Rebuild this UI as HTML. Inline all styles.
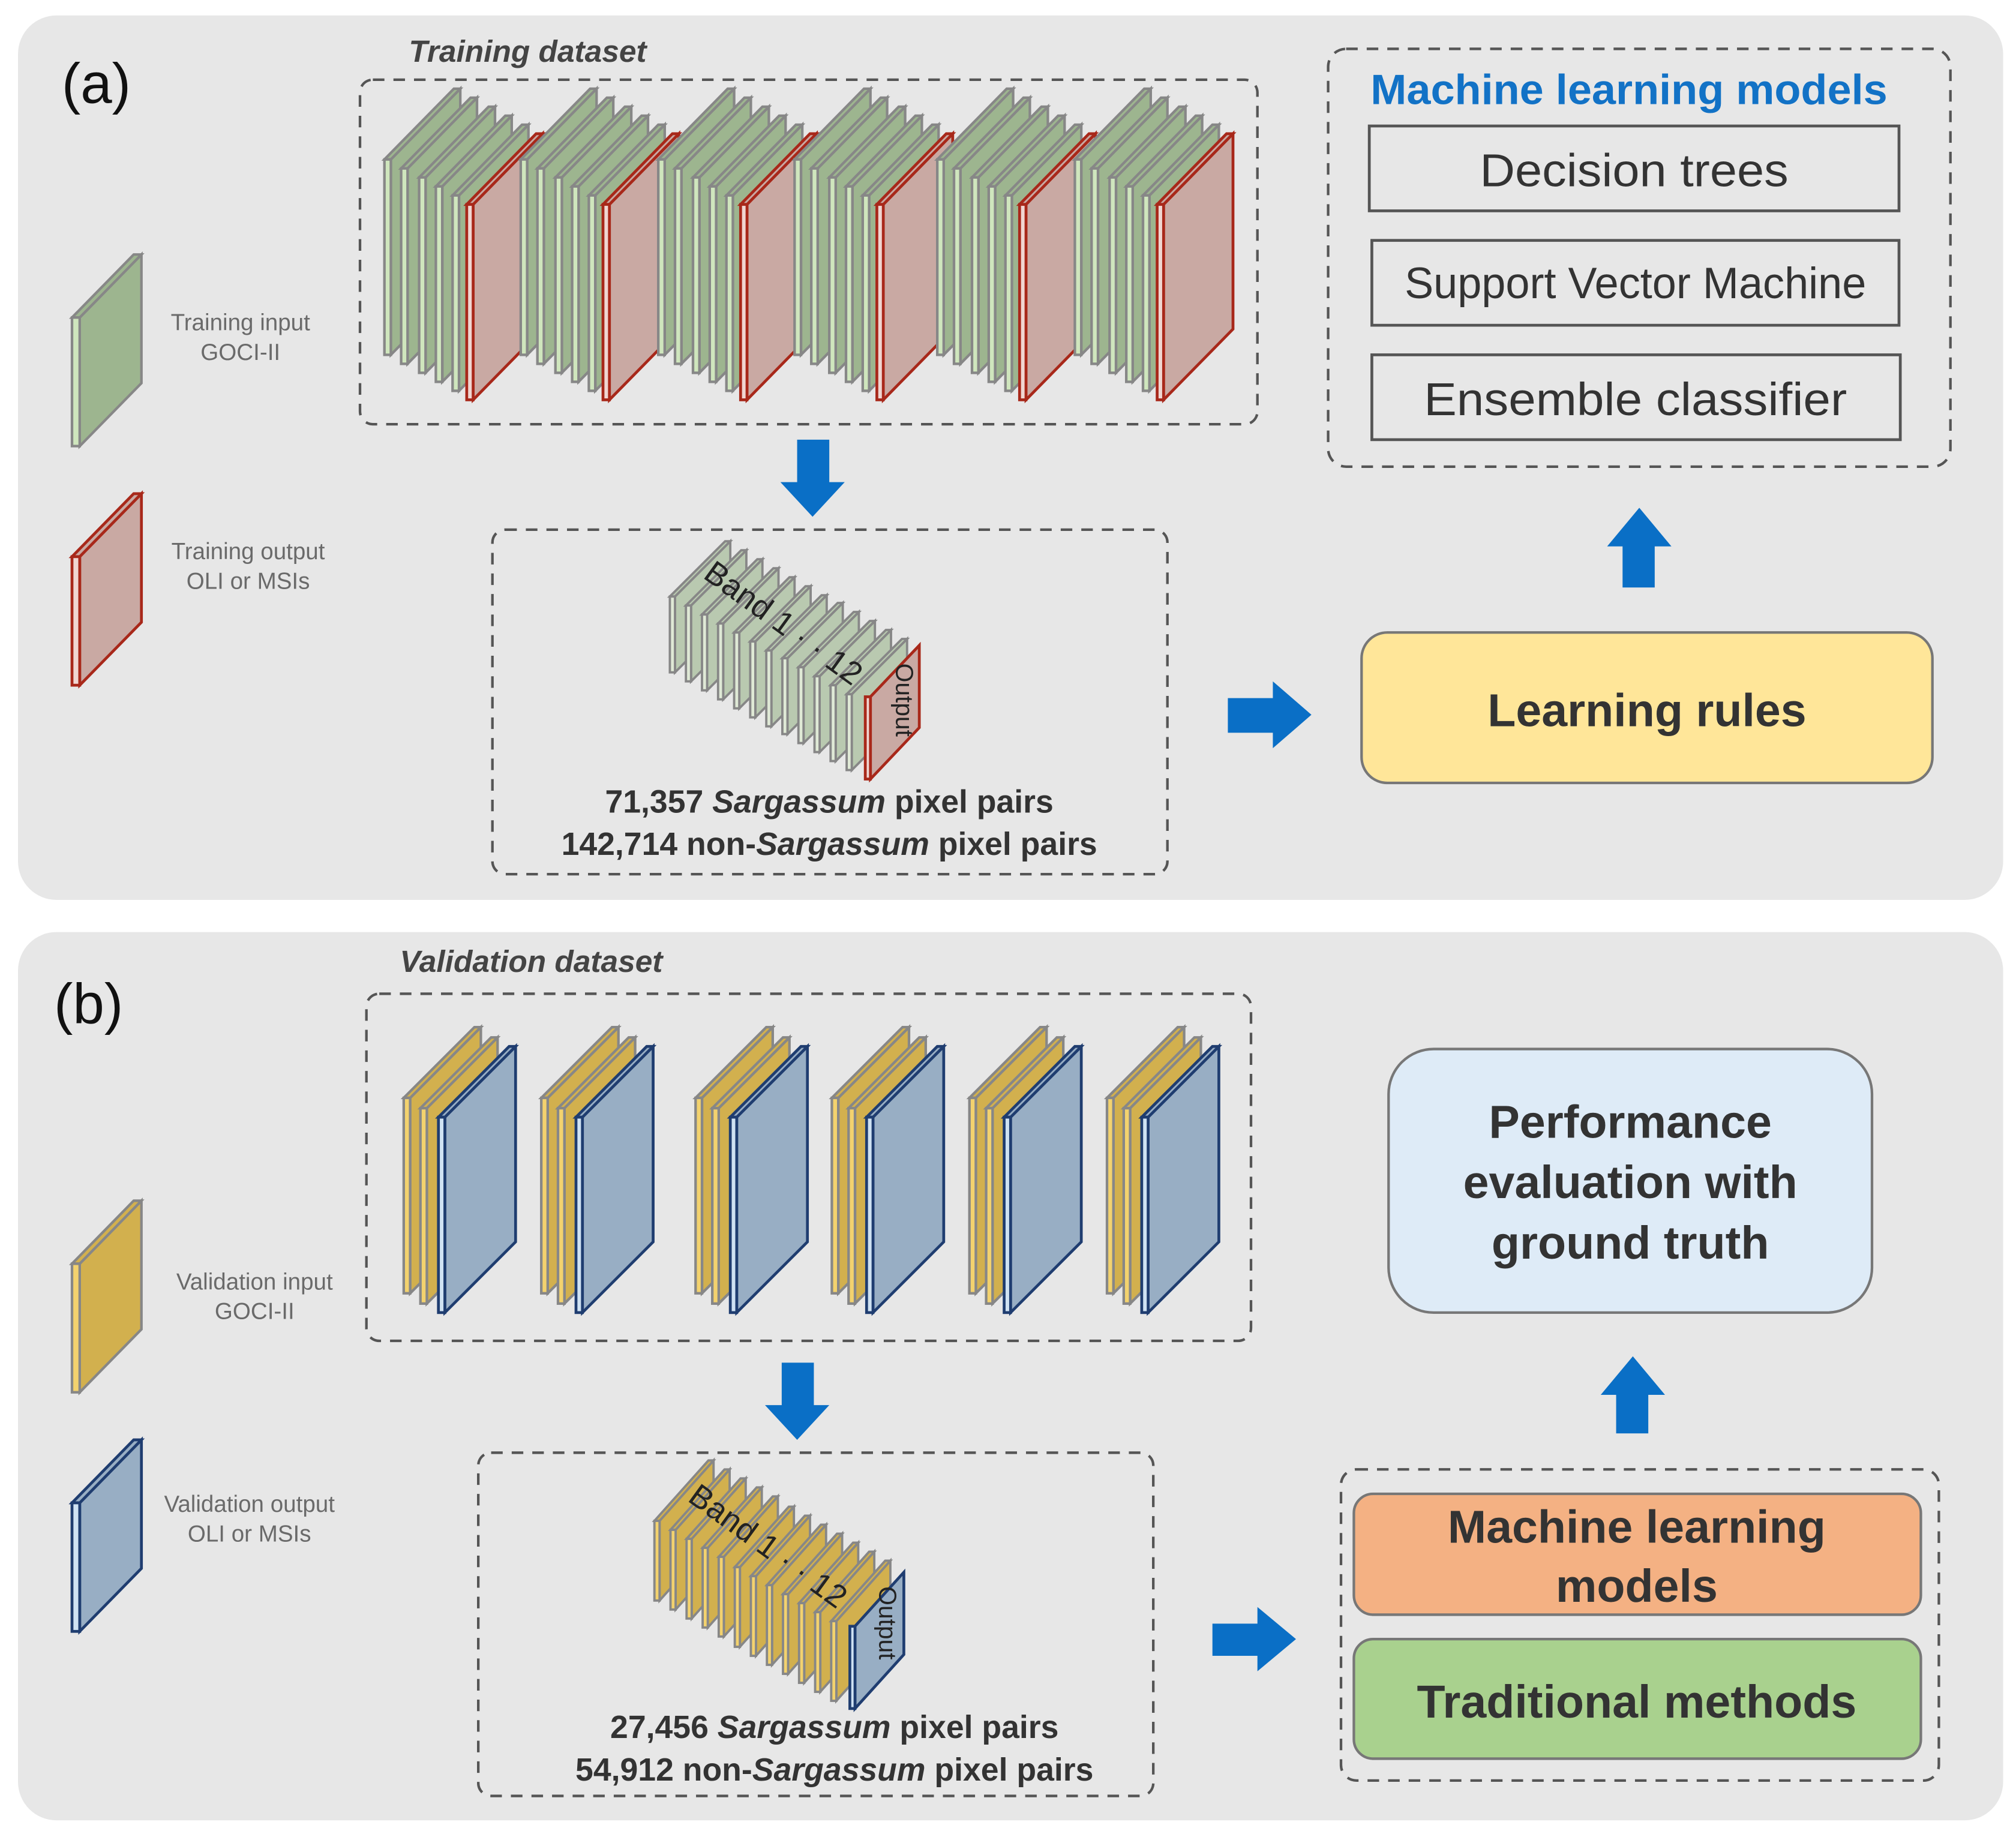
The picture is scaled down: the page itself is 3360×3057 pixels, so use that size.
<!DOCTYPE html>
<html><head><meta charset="utf-8"><style>html,body{margin:0;padding:0;background:#fff}svg{display:block}svg text{font-family:"Liberation Sans",Arial,sans-serif}</style></head>
<body>
<svg width="3360" height="3057" viewBox="0 0 1568 1426.6" xmlns="http://www.w3.org/2000/svg" font-family="'Liberation Sans', Arial, sans-serif">
<defs>
<g id="G"><polygon points="5,0 59,-55 59,97 5,152" fill="#9db58f" stroke="#878787" stroke-width="2"/><polygon points="0,0 54,-55 59,-55 5,0" fill="#9db58f" stroke="#878787" stroke-width="2"/><rect x="0" y="0" width="5" height="152" fill="#cfe6bd" stroke="#878787" stroke-width="2"/></g>
<g id="R"><polygon points="5,0 59,-55 59,97 5,152" fill="#c9a9a3" stroke="#a8281a" stroke-width="2.2"/><polygon points="0,0 54,-55 59,-55 5,0" fill="#c9a9a3" stroke="#a8281a" stroke-width="2.2"/><rect x="0" y="0" width="5" height="152" fill="#f0d6d2" stroke="#a8281a" stroke-width="2.2"/></g>
<g id="Y"><polygon points="5,0 60,-55 60,97 5,152" fill="#d2b04e" stroke="#878787" stroke-width="2"/><polygon points="0,0 55,-55 60,-55 5,0" fill="#d2b04e" stroke="#878787" stroke-width="2"/><rect x="0" y="0" width="5" height="152" fill="#f3d26e" stroke="#878787" stroke-width="2"/></g>
<g id="B"><polygon points="5,0 60,-55 60,97 5,152" fill="#98aec4" stroke="#1f3d70" stroke-width="2.2"/><polygon points="0,0 55,-55 60,-55 5,0" fill="#98aec4" stroke="#1f3d70" stroke-width="2.2"/><rect x="0" y="0" width="5" height="152" fill="#cfe2f3" stroke="#1f3d70" stroke-width="2.2"/></g>
<g id="g"><polygon points="4,0 47,-43 47,16 4,59" fill="#b9c9b0" stroke="#878787" stroke-width="1.8"/><polygon points="0,0 43,-43 47,-43 4,0" fill="#b9c9b0" stroke="#878787" stroke-width="1.8"/><rect x="0" y="0" width="4" height="59" fill="#dfe9d6" stroke="#878787" stroke-width="1.8"/></g>
<g id="r"><polygon points="4,0 42,-40 42,24 4,64" fill="#c9a9a3" stroke="#a8281a" stroke-width="2.2"/><rect x="0" y="0" width="4" height="64" fill="#f0d6d2" stroke="#a8281a" stroke-width="2.2"/></g>
<g id="y"><polygon points="4,0 46,-47 46,15 4,62" fill="#d2b04e" stroke="#878787" stroke-width="1.8"/><polygon points="0,0 42,-47 46,-47 4,0" fill="#d2b04e" stroke="#878787" stroke-width="1.8"/><rect x="0" y="0" width="4" height="62" fill="#f3d26e" stroke="#878787" stroke-width="1.8"/></g>
<g id="b"><polygon points="4,0 42,-42 42,22 4,64" fill="#98aec4" stroke="#1f3d70" stroke-width="2.2"/><rect x="0" y="0" width="4" height="64" fill="#cfe2f3" stroke="#1f3d70" stroke-width="2.2"/></g>
<g id="LG"><polygon points="6,0 54,-49 54,51 6,100" fill="#9db58f" stroke="#878787" stroke-width="2"/><polygon points="0,0 48,-49 54,-49 6,0" fill="#9db58f" stroke="#878787" stroke-width="2"/><rect x="0" y="0" width="6" height="100" fill="#cfe6bd" stroke="#878787" stroke-width="2"/></g>
<g id="LR"><polygon points="6,0 54,-49 54,51 6,100" fill="#c9a9a3" stroke="#a8281a" stroke-width="2.2"/><polygon points="0,0 48,-49 54,-49 6,0" fill="#c9a9a3" stroke="#a8281a" stroke-width="2.2"/><rect x="0" y="0" width="6" height="100" fill="#f0d6d2" stroke="#a8281a" stroke-width="2.2"/></g>
<g id="LY"><polygon points="6,0 54,-49 54,51 6,100" fill="#d2b04e" stroke="#878787" stroke-width="2"/><polygon points="0,0 48,-49 54,-49 6,0" fill="#d2b04e" stroke="#878787" stroke-width="2"/><rect x="0" y="0" width="6" height="100" fill="#f3d26e" stroke="#878787" stroke-width="2"/></g>
<g id="LB"><polygon points="6,0 54,-49 54,51 6,100" fill="#98aec4" stroke="#1f3d70" stroke-width="2.2"/><polygon points="0,0 48,-49 54,-49 6,0" fill="#98aec4" stroke="#1f3d70" stroke-width="2.2"/><rect x="0" y="0" width="6" height="100" fill="#cfe2f3" stroke="#1f3d70" stroke-width="2.2"/></g>
<g id="TG"><use href="#G" x="0" y="0"/><use href="#G" x="13" y="7"/><use href="#G" x="27" y="14"/><use href="#G" x="40" y="21"/><use href="#G" x="53" y="28"/><use href="#R" x="64" y="35"/></g>
<g id="VG"><use href="#Y" x="0" y="0"/><use href="#Y" x="13" y="8"/><use href="#B" x="27" y="15"/></g>
</defs>

<rect width="1568" height="1427" fill="#fff"/>
<rect x="14" y="12" width="1544" height="688" rx="30" fill="#e7e7e7"/>
<rect x="14" y="725" width="1544" height="691" rx="30" fill="#e7e7e7"/>

<text x="48" y="80" font-size="44" fill="#111">(a)</text>
<text x="318" y="48" font-size="24" font-style="italic" font-weight="bold" fill="#444">Training dataset</text>
<rect x="280" y="62" width="698" height="268" rx="10" fill="none" stroke="#555" stroke-width="2" stroke-dasharray="9,7"/>
<use href="#TG" x="299" y="124"/>
<use href="#TG" x="405" y="124"/>
<use href="#TG" x="512" y="124"/>
<use href="#TG" x="618" y="124"/>
<use href="#TG" x="729" y="124"/>
<use href="#TG" x="836" y="124"/>

<use href="#LG" x="56" y="247"/>
<use href="#LR" x="56" y="433"/>
<g font-size="18" fill="#6a6a6a" text-anchor="middle">
<text x="187" y="257">Training input</text><text x="187" y="280">GOCI-II</text>
<text x="193" y="435">Training output</text><text x="193" y="458">OLI or MSIs</text>
</g>

<polygon points="620,342 645,342 645,375 657,375 632,402 607,375 620,375" fill="#0a6fc6"/>
<rect x="383" y="412" width="525" height="268" rx="10" fill="none" stroke="#555" stroke-width="2" stroke-dasharray="9,7"/>
<g>
<use href="#g" x="521" y="464"/><use href="#g" x="533.5" y="471"/><use href="#g" x="546" y="478"/><use href="#g" x="558.5" y="485"/><use href="#g" x="571" y="492"/><use href="#g" x="583.5" y="499"/><use href="#g" x="596" y="506"/><use href="#g" x="608.5" y="512"/><use href="#g" x="621" y="519"/><use href="#g" x="633.5" y="526"/><use href="#g" x="646" y="533"/><use href="#g" x="658.5" y="540"/>
<use href="#r" x="673" y="542"/>
</g>
<text transform="translate(546,449) rotate(36)" font-size="25" fill="#222">Band 1 · · 12</text>
<text transform="translate(697,516) rotate(90)" font-size="19" fill="#222">Output</text>
<g font-size="25" font-weight="bold" fill="#333" text-anchor="middle">
<text x="645" y="632">71,357 <tspan font-style="italic">Sargassum</tspan> pixel pairs</text>
<text x="645" y="665">142,714 non-<tspan font-style="italic">Sargassum</tspan> pixel pairs</text>
</g>

<polygon points="955,543 990,543 990,530 1020,556 990,582 990,570 955,570" fill="#0a6fc6"/>
<rect x="1059" y="492" width="444" height="117" rx="20" fill="#ffe699" stroke="#777" stroke-width="2"/>
<text x="1281" y="565" font-size="36" font-weight="bold" fill="#333" text-anchor="middle">Learning rules</text>
<polygon points="1275,395 1300,425 1287,425 1287,457 1262,457 1262,425 1250,425" fill="#0a6fc6"/>

<rect x="1033" y="38" width="484" height="325" rx="14" fill="none" stroke="#555" stroke-width="2" stroke-dasharray="9,7"/>
<text x="1267" y="81" font-size="33" font-weight="bold" fill="#1272c6" text-anchor="middle" textLength="402" lengthAdjust="spacingAndGlyphs">Machine learning models</text>
<rect x="1065" y="98" width="412" height="66" fill="none" stroke="#555" stroke-width="2.2"/>
<rect x="1067" y="187" width="410" height="66" fill="none" stroke="#555" stroke-width="2.2"/>
<rect x="1067" y="276" width="411" height="66" fill="none" stroke="#555" stroke-width="2.2"/>
<g font-size="36" fill="#333" text-anchor="middle">
<text x="1271" y="145" textLength="240" lengthAdjust="spacingAndGlyphs">Decision  trees</text>
<text x="1272" y="232" textLength="359" lengthAdjust="spacingAndGlyphs" font-size="34">Support Vector Machine</text>
<text x="1272" y="323" textLength="329" lengthAdjust="spacingAndGlyphs">Ensemble  classifier</text>
</g>

<text x="42" y="796" font-size="44" fill="#111">(b)</text>
<text x="311" y="756" font-size="24" font-style="italic" font-weight="bold" fill="#444">Validation dataset</text>
<rect x="285" y="773" width="688" height="270" rx="10" fill="none" stroke="#555" stroke-width="2" stroke-dasharray="9,7"/>
<use href="#VG" x="314" y="854"/>
<use href="#VG" x="421" y="854"/>
<use href="#VG" x="541" y="854"/>
<use href="#VG" x="647" y="854"/>
<use href="#VG" x="754" y="854"/>
<use href="#VG" x="861" y="854"/>

<use href="#LY" x="56" y="983"/>
<use href="#LB" x="56" y="1169"/>
<g font-size="18" fill="#6a6a6a" text-anchor="middle">
<text x="198" y="1003">Validation input</text><text x="198" y="1026">GOCI-II</text>
<text x="194" y="1176">Validation output</text><text x="194" y="1199">OLI or MSIs</text>
</g>

<polygon points="608,1060 633,1060 633,1093 645,1093 620,1120 595,1093 608,1093" fill="#0a6fc6"/>
<rect x="372" y="1130" width="525" height="267" rx="10" fill="none" stroke="#555" stroke-width="2" stroke-dasharray="9,7"/>
<g>
<use href="#y" x="509" y="1183"/><use href="#y" x="521.5" y="1190"/><use href="#y" x="534" y="1197"/><use href="#y" x="546.5" y="1204"/><use href="#y" x="559" y="1211"/><use href="#y" x="571.5" y="1219"/><use href="#y" x="584" y="1226"/><use href="#y" x="596.5" y="1233"/><use href="#y" x="609" y="1240"/><use href="#y" x="621.5" y="1247"/><use href="#y" x="634" y="1254"/><use href="#y" x="646.5" y="1261"/>
<use href="#b" x="661" y="1265"/>
</g>
<text transform="translate(534,1167) rotate(36)" font-size="25" fill="#222">Band 1 · · 12</text>
<text transform="translate(684,1234) rotate(90)" font-size="19" fill="#222">Output</text>
<g font-size="25" font-weight="bold" fill="#333" text-anchor="middle">
<text x="649" y="1352">27,456 <tspan font-style="italic">Sargassum</tspan> pixel pairs</text>
<text x="649" y="1385">54,912 non-<tspan font-style="italic">Sargassum</tspan> pixel pairs</text>
</g>

<polygon points="943,1263 978,1263 978,1250 1008,1275 978,1300 978,1288 943,1288" fill="#0a6fc6"/>
<rect x="1043" y="1143" width="465" height="242" rx="12" fill="none" stroke="#555" stroke-width="2" stroke-dasharray="9,7"/>
<rect x="1053" y="1162" width="441" height="94" rx="15" fill="#f4b183" stroke="#777" stroke-width="2"/>
<rect x="1053" y="1275" width="441" height="93" rx="15" fill="#a9d18e" stroke="#777" stroke-width="2"/>
<g font-size="36" font-weight="bold" fill="#333" text-anchor="middle">
<text x="1273" y="1200">Machine learning</text>
<text x="1273" y="1246">models</text>
<text x="1273" y="1336">Traditional methods</text>
</g>
<polygon points="1270,1055 1295,1085 1282,1085 1282,1115 1257,1115 1257,1085 1245,1085" fill="#0a6fc6"/>
<rect x="1080" y="816" width="376" height="205" rx="35" fill="#deebf7" stroke="#777" stroke-width="2"/>
<g font-size="36" font-weight="bold" fill="#333" text-anchor="middle">
<text x="1268" y="885">Performance</text>
<text x="1268" y="932">evaluation with</text>
<text x="1268" y="979">ground truth</text>
</g>
</svg>
</body></html>
